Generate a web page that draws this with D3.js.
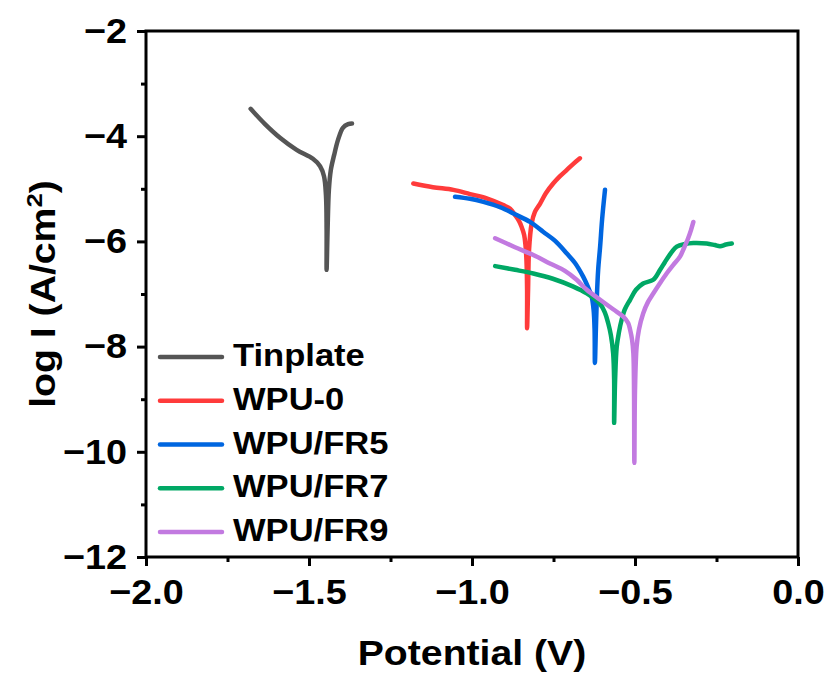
<!DOCTYPE html>
<html>
<head>
<meta charset="utf-8">
<script src="https://cdn.jsdelivr.net/npm/d3@7"></script>
<style>
  html, body { margin: 0; padding: 0; background: #fff; }
  svg text { font-family: "Liberation Sans", Arial, sans-serif; font-weight: bold; fill: #000; }
</style>
</head>
<body>
<svg id="chart" width="826" height="675"></svg>
<script>
// ---- Data (Potential V, log I) ----
const seriesNames = ["Tinplate", "WPU-0", "WPU/FR5", "WPU/FR7", "WPU/FR9"];
const seriesColors = ["#555555", "#ff3b3b", "#0066e0", "#00a865", "#c27ae0"];

const tinplate = [
  [-1.679,-3.48],[-1.635,-3.77],[-1.589,-4.03],[-1.538,-4.26],[-1.488,-4.43],
  [-1.466,-4.57],[-1.454,-4.76],[-1.448,-5.12],[-1.446,-5.78],[-1.446,-6.54],
  [-1.443,-5.78],[-1.439,-5.02],[-1.433,-4.64],[-1.423,-4.36],[-1.411,-4.07],
  [-1.396,-3.84],[-1.380,-3.77],[-1.368,-3.76]
];
const wpu0 = [
  [-1.180,-4.90],[-1.120,-4.97],[-1.057,-5.02],[-1.006,-5.10],[-0.955,-5.18],
  [-0.904,-5.31],[-0.883,-5.38],[-0.868,-5.50],[-0.856,-5.61],[-0.848,-5.72],
  [-0.840,-5.88],[-0.836,-6.07],[-0.833,-6.35],[-0.831,-6.92],[-0.831,-7.65],
  [-0.828,-6.92],[-0.825,-6.16],[-0.817,-5.66],[-0.807,-5.44],[-0.791,-5.28],
  [-0.773,-5.08],[-0.751,-4.90],[-0.730,-4.76],[-0.709,-4.64],[-0.690,-4.53],
  [-0.669,-4.42]
];
const wpuFR5 = [
  [-1.052,-5.15],[-1.006,-5.19],[-0.965,-5.25],[-0.914,-5.35],[-0.863,-5.50],
  [-0.822,-5.63],[-0.781,-5.82],[-0.745,-5.99],[-0.709,-6.23],[-0.684,-6.41],
  [-0.659,-6.67],[-0.644,-6.87],[-0.633,-7.05],[-0.627,-7.30],[-0.624,-7.68],
  [-0.623,-8.31],[-0.620,-7.68],[-0.617,-7.06],[-0.613,-6.54],[-0.607,-6.10],
  [-0.601,-5.59],[-0.592,-5.02]
];
const wpuFR7 = [
  [-0.929,-6.47],[-0.868,-6.54],[-0.812,-6.61],[-0.752,-6.71],[-0.689,-6.86],
  [-0.648,-6.99],[-0.607,-7.19],[-0.592,-7.36],[-0.582,-7.56],[-0.574,-7.78],
  [-0.567,-8.13],[-0.564,-8.63],[-0.564,-9.45],[-0.561,-8.63],[-0.556,-8.00],
  [-0.549,-7.72],[-0.541,-7.49],[-0.531,-7.29],[-0.515,-7.11],[-0.497,-6.92],
  [-0.475,-6.80],[-0.444,-6.73],[-0.423,-6.54],[-0.408,-6.39],[-0.387,-6.20],
  [-0.372,-6.10],[-0.347,-6.05],[-0.321,-6.03],[-0.280,-6.04],[-0.255,-6.07],
  [-0.239,-6.09],[-0.221,-6.06],[-0.203,-6.04]
];
const wpuFR9 = [
  [-0.929,-5.94],[-0.868,-6.11],[-0.812,-6.26],[-0.761,-6.42],[-0.715,-6.56],
  [-0.679,-6.73],[-0.648,-6.92],[-0.607,-7.11],[-0.567,-7.29],[-0.536,-7.43],
  [-0.521,-7.55],[-0.515,-7.68],[-0.509,-7.87],[-0.505,-8.13],[-0.503,-8.83],
  [-0.502,-10.21],[-0.500,-8.83],[-0.495,-8.00],[-0.488,-7.68],[-0.475,-7.37],
  [-0.460,-7.15],[-0.444,-6.99],[-0.423,-6.79],[-0.403,-6.61],[-0.383,-6.45],
  [-0.362,-6.29],[-0.350,-6.13],[-0.337,-5.94],[-0.328,-5.78],[-0.321,-5.63]
];
const seriesData = [tinplate, wpu0, wpuFR5, wpuFR7, wpuFR9];

const xTicks = [-2.0, -1.5, -1.0, -0.5, 0.0];
const xTickLabels = ["\u22122.0", "\u22121.5", "\u22121.0", "\u22120.5", "0.0"];
const xMinorTicks = [-1.75, -1.25, -0.75, -0.25];
const yTicks = [-2, -4, -6, -8, -10, -12];
const yTickLabels = ["\u22122", "\u22124", "\u22126", "\u22128", "\u221210", "\u221212"];
const yMinorTicks = [-3, -5, -7, -9, -11];

// ---- Layout ----
const svg = d3.select("#chart");
const L = 146, R = 798, T = 31, B = 557;
const x = d3.scaleLinear().domain([-2, 0]).range([L, R]);
const y = d3.scaleLinear().domain([-12, -2]).range([B, T]);

// lines
const line = d3.line().x(d => x(d[0])).y(d => y(d[1])).curve(d3.curveCatmullRom.alpha(0.5));
const drawOrder = [0, 1, 2, 3, 4];
svg.append("g").selectAll("path").data(drawOrder).join("path")
  .attr("d", i => line(seriesData[i]))
  .attr("fill", "none")
  .attr("stroke", i => seriesColors[i])
  .attr("stroke-width", 4.5)
  .attr("stroke-linecap", "round")
  .attr("stroke-linejoin", "round");

// axes
const tickFont = 35, sx = 1.08;
const xAxis = d3.axisBottom(x).tickValues(xTicks).tickFormat((d, i) => xTickLabels[i])
  .tickSizeInner(9).tickSizeOuter(0).tickPadding(13);
const gx = svg.append("g").attr("transform", `translate(0,${B})`).call(xAxis);
gx.select(".domain").remove();
gx.selectAll(".tick line").attr("stroke", "#000").attr("stroke-width", 3);
gx.selectAll(".tick text").style("font-size", tickFont + "px").attr("transform", `scale(${sx},1)`);

const xMinor = d3.axisBottom(x).tickValues(xMinorTicks).tickFormat("").tickSizeInner(5).tickSizeOuter(0);
const gxm = svg.append("g").attr("transform", `translate(0,${B})`).call(xMinor);
gxm.select(".domain").remove();
gxm.selectAll(".tick line").attr("stroke", "#000").attr("stroke-width", 3);

const yAxis = d3.axisLeft(y).tickValues(yTicks).tickFormat((d, i) => yTickLabels[i])
  .tickSizeInner(9).tickSizeOuter(0).tickPadding(10);
const gy = svg.append("g").attr("transform", `translate(${L},0)`).call(yAxis);
gy.select(".domain").remove();
gy.selectAll(".tick line").attr("stroke", "#000").attr("stroke-width", 3);
gy.selectAll(".tick text").style("font-size", tickFont + "px")
  .attr("x", -19 / sx).attr("transform", `scale(${sx},1)`);

const yMinor = d3.axisLeft(y).tickValues(yMinorTicks).tickFormat("").tickSizeInner(5).tickSizeOuter(0);
const gym = svg.append("g").attr("transform", `translate(${L},0)`).call(yMinor);
gym.select(".domain").remove();
gym.selectAll(".tick line").attr("stroke", "#000").attr("stroke-width", 3);

// frame
svg.append("rect").attr("x", L).attr("y", T).attr("width", R - L).attr("height", B - T)
  .attr("fill", "none").attr("stroke", "#000").attr("stroke-width", 3);

// axis titles
svg.append("text").attr("transform", `translate(${(L + R) / 2},665) scale(1.12,1)`)
  .attr("text-anchor", "middle").style("font-size", "35px").text("Potential (V)");
const yt = svg.append("text").attr("transform", `translate(55,${(T + B) / 2}) rotate(-90) scale(1.12,1)`)
  .attr("text-anchor", "middle").style("font-size", "35px");
yt.append("tspan").text("log I (A/cm");
yt.append("tspan").attr("dy", -13).style("font-size", "23px").text("2");
yt.append("tspan").attr("dy", 13).text(")");

// legend
const lg = svg.append("g");
const legY0 = 357, legDY = 43.75;
seriesNames.forEach((name, i) => {
  const yy = legY0 + i * legDY;
  lg.append("line").attr("x1", 160).attr("x2", 222).attr("y1", yy).attr("y2", yy)
    .attr("stroke", seriesColors[i]).attr("stroke-width", 4.5).attr("stroke-linecap", "round");
  lg.append("text").attr("transform", `translate(233,${yy + 9}) scale(1.08,1)`)
    .style("font-size", "32px").text(name);
});
</script>
</body>
</html>
